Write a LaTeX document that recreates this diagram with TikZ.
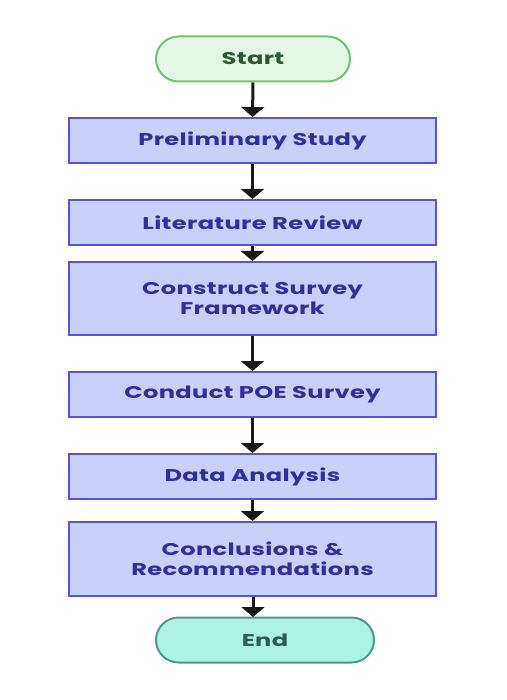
\documentclass[tikz,border=0pt]{standalone}
\usepackage{fontspec}
\setmainfont{Poppins}[FakeStretch=1.42,LetterSpace=2]
\usetikzlibrary{arrows.meta,shapes.misc}
\definecolor{procfill}{HTML}{C9D1FA}
\definecolor{procdraw}{HTML}{5B50E0}
\definecolor{proctext}{HTML}{2F2F9F}
\definecolor{startfill}{HTML}{E3F8E6}
\definecolor{startdraw}{HTML}{6CC570}
\definecolor{starttext}{HTML}{2D5A33}
\definecolor{endfill}{HTML}{AEF2E3}
\definecolor{enddraw}{HTML}{4A9A8A}
\definecolor{endtext}{HTML}{2A5E55}
\tikzset{
  procbox/.style={draw=procdraw, fill=procfill, line width=2pt, text=proctext,
    minimum width=367pt, inner sep=0pt, align=center, font=\fontsize{17}{20}\selectfont\bfseries},
  terminal/.style={rounded rectangle, line width=2pt, minimum height=45pt, inner sep=0pt,
    font=\fontsize{17}{20}\selectfont\bfseries},
  flow/.style={line width=3pt, draw=black!90, -{Triangle[width=23pt,length=10pt]}}
}
\begin{document}
\begin{tikzpicture}[x=1pt,y=-1pt]
\useasboundingbox (0,0) rectangle (506,700);
\node[terminal, draw=startdraw, fill=startfill, text=starttext, minimum width=194pt] (start) at (253,59) {Start};
\node[procbox, minimum height=45pt] (prelim) at (252.5,140.5) {Preliminary Study};
\node[procbox, minimum height=45pt] (lit) at (252.5,222.5) {Literature Review};
\node[procbox, minimum height=73pt] (frame) at (252.5,298.5) {Construct Survey\\Framework};
\node[procbox, minimum height=45pt] (poe) at (252.5,394.5) {Conduct POE Survey};
\node[procbox, minimum height=45pt] (data) at (252.5,476.5) {Data Analysis};
\node[procbox, minimum height=74pt] (concl) at (252.5,559) {Conclusions \&\\Recommendations};
\node[terminal, draw=enddraw, fill=endfill, text=endtext, minimum width=218pt] (end) at (265,640) {End};
\coordinate (endtop) at (253,617);
\draw[flow] (start.south) -- (prelim.north);
\draw[flow] (prelim.south) -- (lit.north);
\draw[flow] (lit.south) -- (frame.north);
\draw[flow] (frame.south) -- (poe.north);
\draw[flow] (poe.south) -- (data.north);
\draw[flow] (data.south) -- (concl.north);
\draw[flow] (concl.south -| endtop) -- (endtop);
\end{tikzpicture}
\end{document}
